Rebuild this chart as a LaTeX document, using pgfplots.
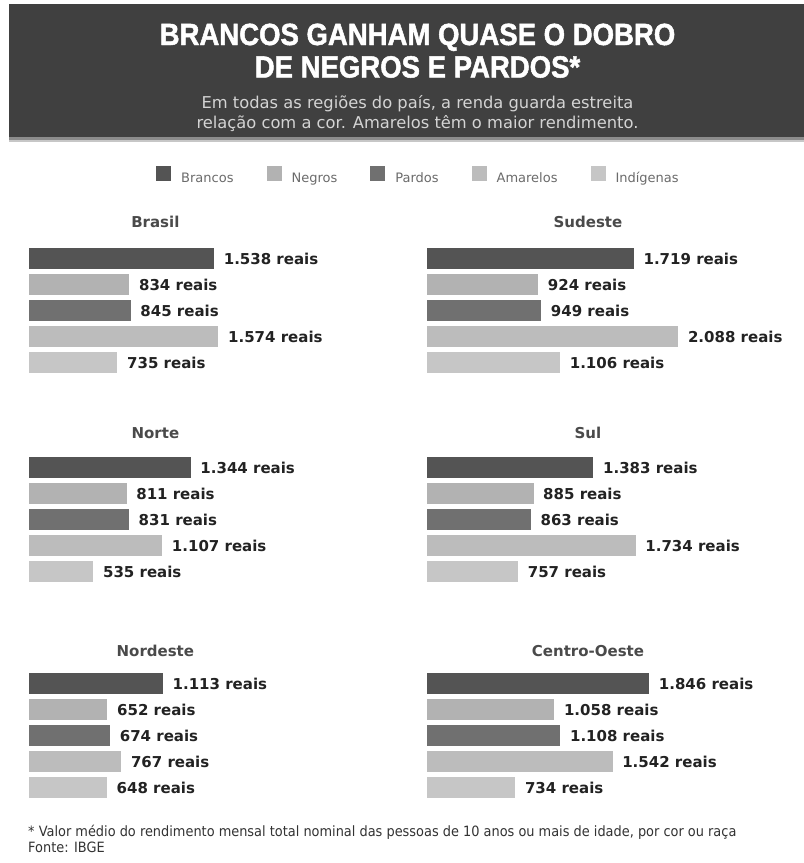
\documentclass[border=0pt]{standalone}
\usepackage{pgfplots}
\pgfplotsset{compat=1.18}
\usepackage{fontspec}
\setmainfont{DejaVu Sans}
\newfontfamily\titlefont[FakeStretch=0.9,FakeBold=1.6]{Liberation Sans}
\newfontfamily\footfont[FakeStretch=0.91]{DejaVu Sans}
\definecolor{cBran}{HTML}{545454}
\definecolor{cNeg}{HTML}{B2B2B2}
\definecolor{cPar}{HTML}{707070}
\definecolor{cAma}{HTML}{BCBCBC}
\definecolor{cInd}{HTML}{C6C6C6}
\definecolor{banner}{HTML}{404040}
\definecolor{ttl}{HTML}{4A4A4A}
\definecolor{lbl}{HTML}{222222}
\pgfplotsset{
  panel/.style={
    hide axis, scale only axis, width=300.9pt, height=130pt,
    xmin=0, xmax=2500, ymin=0.5, ymax=5.5, clip=false,
    anchor=north west,
    xbar, bar width=21pt, bar shift=0pt,
    point meta=x,
    nodes near coords={\pgfmathprintnumber{\pgfplotspointmeta}~reais},
    nodes near coords style={font=\bfseries\fontsize{15}{15}\selectfont, text=lbl, inner sep=0pt, anchor=west, xshift=9.5pt, yshift=-0.5pt},
    /pgf/number format/fixed, /pgf/number format/precision=0,
    /pgf/number format/1000 sep={.}, /pgf/number format/assume math mode=true,
    title style={font=\bfseries\fontsize{15}{15}\selectfont, text=ttl, anchor=base},
  },
  bBran/.style={fill=cBran, draw=none},
  bNeg/.style={fill=cNeg, draw=none},
  bPar/.style={fill=cPar, draw=none},
  bAma/.style={fill=cAma, draw=none},
  bInd/.style={fill=cInd, draw=none},
}
\begin{document}
\begin{tikzpicture}[x=1pt,y=-1pt]
\path[use as bounding box] (0,0) rectangle (804,863);
\fill[white] (0,0) rectangle (804,863);
% banner
\fill[banner] (9,4) rectangle (804,137);
\fill[black!45] (9,137) rectangle (804,139.5);
\fill[black!22] (9,139.5) rectangle (804,142);
\node[font=\titlefont\bfseries\fontsize{30.6}{34}\selectfont, text=white, anchor=base, inner sep=0pt] at (417.5,45) {BRANCOS GANHAM QUASE O DOBRO};
\node[font=\titlefont\bfseries\fontsize{30.6}{34}\selectfont, text=white, anchor=base, inner sep=0pt] at (417.5,77.5) {DE NEGROS E PARDOS*};
\node[font=\fontsize{16.3}{17}\selectfont, text=black!17, anchor=base, inner sep=0pt] at (417.5,108.5) {Em todas as regiões do país, a renda guarda estreita};
\node[font=\fontsize{16.3}{17}\selectfont, text=black!17, anchor=base, inner sep=0pt] at (417.5,128) {relação com a cor. Amarelos têm o maior rendimento.};

% Brasil
\begin{axis}[panel, at={(29pt,-245.5pt)},
  title={Brasil}, title style={at={(axis description cs:0.42,1)}, yshift=12.2pt},
  legend columns=5,
  legend image code/.code={\fill (0pt,-2.8pt) rectangle (15pt,12.2pt);},
  legend style={at={(axis description cs:1.291,1.542)}, anchor=center, draw=none, fill=none,
    font=\fontsize{13}{13}\selectfont, text=black!58, nodes={inner sep=0pt},
    /tikz/every odd column/.append style={column sep=10pt},
    /tikz/every even column/.append style={column sep=33pt}},
]
\addplot[bBran] coordinates {(1538,5)};
\addplot[bNeg]  coordinates {(834,4)};
\addplot[bPar]  coordinates {(845,3)};
\addplot[bAma]  coordinates {(1574,2)};
\addplot[bInd]  coordinates {(735,1)};
\legend{Brancos,Negros,Pardos,Amarelos,Indígenas}
\end{axis}

% Norte
\begin{axis}[panel, at={(29pt,-454.5pt)},
  title={Norte}, title style={at={(axis description cs:0.42,1)}, yshift=10.5pt}]
\addplot[bBran] coordinates {(1344,5)};
\addplot[bNeg]  coordinates {(811,4)};
\addplot[bPar]  coordinates {(831,3)};
\addplot[bAma]  coordinates {(1107,2)};
\addplot[bInd]  coordinates {(535,1)};
\end{axis}

% Nordeste
\begin{axis}[panel, at={(29pt,-670pt)},
  title={Nordeste}, title style={at={(axis description cs:0.42,1)}, yshift=7.3pt}]
\addplot[bBran] coordinates {(1113,5)};
\addplot[bNeg]  coordinates {(652,4)};
\addplot[bPar]  coordinates {(674,3)};
\addplot[bAma]  coordinates {(767,2)};
\addplot[bInd]  coordinates {(648,1)};
\end{axis}

% Sudeste
\begin{axis}[panel, at={(427pt,-245.8pt)},
  title={Sudeste}, title style={at={(axis description cs:0.535,1)}, yshift=12.5pt}]
\addplot[bBran] coordinates {(1719,5)};
\addplot[bNeg]  coordinates {(924,4)};
\addplot[bPar]  coordinates {(949,3)};
\addplot[bAma]  coordinates {(2088,2)};
\addplot[bInd]  coordinates {(1106,1)};
\end{axis}

% Sul
\begin{axis}[panel, at={(427pt,-454.5pt)},
  title={Sul}, title style={at={(axis description cs:0.535,1)}, yshift=10.5pt}]
\addplot[bBran] coordinates {(1383,5)};
\addplot[bNeg]  coordinates {(885,4)};
\addplot[bPar]  coordinates {(863,3)};
\addplot[bAma]  coordinates {(1734,2)};
\addplot[bInd]  coordinates {(757,1)};
\end{axis}

% Centro-Oeste
\begin{axis}[panel, at={(427pt,-670.3pt)},
  title={Centro-Oeste}, title style={at={(axis description cs:0.535,1)}, yshift=7.6pt}]
\addplot[bBran] coordinates {(1846,5)};
\addplot[bNeg]  coordinates {(1058,4)};
\addplot[bPar]  coordinates {(1108,3)};
\addplot[bAma]  coordinates {(1542,2)};
\addplot[bInd]  coordinates {(734,1)};
\end{axis}

% footnote
\node[font=\footfont\fontsize{14.2}{15}\selectfont, text=black!80, anchor=base west, inner sep=0pt] at (28,836.5) {* Valor médio do rendimento mensal total nominal das pessoas de 10 anos ou mais de idade, por cor ou raça};
\node[font=\footfont\fontsize{14.2}{15}\selectfont, text=black!80, anchor=base west, inner sep=0pt] at (28,852) {Fonte: IBGE};
\end{tikzpicture}
\end{document}
